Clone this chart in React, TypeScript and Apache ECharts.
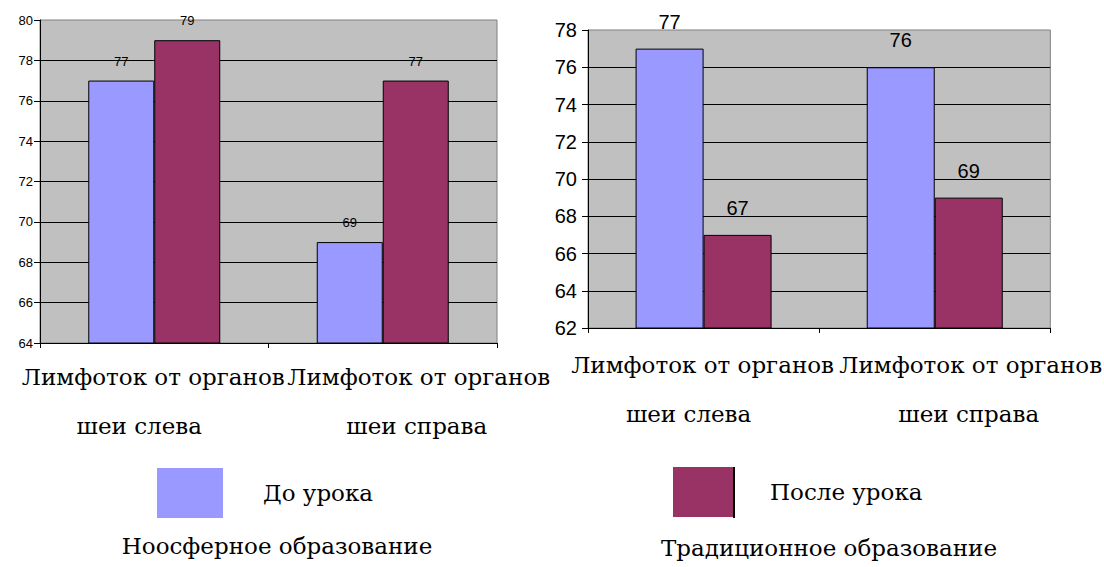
import React, { useEffect, useRef } from "react";
import * as echarts from "echarts";

const categories = ["Лимфоток от органов шеи слева", "Лимфоток от органов шеи справа"];
const noosBefore = [77, 69];
const noosAfter = [79, 77];
const tradBefore = [77, 76];
const tradAfter = [67, 69];
const seriesNames = ["До урока", "После урока"];
const titles = ["Ноосферное образование", "Традиционное образование"];

const BLUE = "#9999ff";
const RED = "#993366";
const SERIF = "DejaVu Serif";
const SANS = "Liberation Sans";
const FS = 23;

function catFormatter(shift1: number[], shift2: number[]) {
  return (value: string, index: number) => {
    const cut = value.indexOf("органов") + "органов".length;
    const l1 = value.slice(0, cut);
    const l2 = value.slice(cut + 1);
    const s1 = shift1[index];
    const s2 = shift2[index];
    const t1 = s1 >= 0 ? `{r${index}a|${l1}}` : `{l${index}a|${l1}}`;
    const t2 = s2 >= 0 ? `{r${index}b|${l2}}` : `{l${index}b|${l2}}`;
    return t1 + "\n" + t2;
  };
}

function richFor(shift1: number[], shift2: number[]) {
  const rich: any = {};
  const base = { fontFamily: SERIF, fontSize: FS, color: "#000", lineHeight: 49 };
  [0, 1].forEach((i) => {
    const a = shift1[i];
    const b = shift2[i];
    rich[`r${i}a`] = { ...base, padding: [0, 0, 0, Math.max(0, a * 2)] };
    rich[`l${i}a`] = { ...base, padding: [0, Math.max(0, -a * 2), 0, 0] };
    rich[`r${i}b`] = { ...base, padding: [0, 0, 0, Math.max(0, b * 2)] };
    rich[`l${i}b`] = { ...base, padding: [0, Math.max(0, -b * 2), 0, 0] };
  });
  return rich;
}

export default function App() {
  const ref = useRef<HTMLDivElement>(null);
  useEffect(() => {
    document.body.style.margin = "0";
    const chart = echarts.init(ref.current!, null, { renderer: "svg" });
    const shift1 = [-1, 36];
    const shift2 = [-15, 34];
    const xAxisCommon = (gridIndex: number, margin: number) => ({
      type: "category",
      gridIndex,
      data: categories,
      axisLine: { lineStyle: { color: "#000", width: 1 } },
      axisTick: { show: true, length: 5, lineStyle: { color: "#000" } },
      axisLabel: {
        interval: 0,
        margin,
        fontFamily: SERIF,
        fontSize: FS,
        formatter: catFormatter(shift1, shift2),
        rich: richFor(shift1, shift2),
        lineHeight: 49,
      },
      splitLine: { show: false },
    });
    const yAxisCommon = (gridIndex: number, min: number, max: number, fontSize: number, margin: number) => ({
      type: "value",
      gridIndex,
      min,
      max,
      interval: 2,
      axisLine: { show: true, lineStyle: { color: "#000", width: 1 } },
      axisTick: { show: true, length: 6, lineStyle: { color: "#000" } },
      axisLabel: { fontFamily: SANS, fontSize, color: "#000", margin },
      splitLine: { show: true, showMaxLine: false, lineStyle: { color: "#000", width: 1 } },
    });
    const barSeries = (name: string, data: number[], idx: number, color: string, width: number, fs: number, dist: number) => ({
      type: "bar",
      name,
      data,
      xAxisIndex: idx,
      yAxisIndex: idx,
      barWidth: width,
      barGap: "0%",
      itemStyle: { color, borderColor: "#000", borderWidth: 1 },
      label: {
        show: true,
        position: "top",
        distance: dist,
        fontFamily: SANS,
        fontSize: fs,
        color: "#000",
      },
    });
    chart.setOption({
      animation: false,
      backgroundColor: "#fff",
      title: [
        {
          text: titles[0],
          left: 277,
          top: 534,
          textAlign: "center",
          padding: 0,
          textStyle: { fontFamily: SERIF, fontSize: FS, fontWeight: "normal", color: "#000" },
        },
        {
          text: titles[1],
          left: 829,
          top: 536,
          textAlign: "center",
          padding: 0,
          textStyle: { fontFamily: SERIF, fontSize: FS, fontWeight: "normal", color: "#000" },
        },
      ],
      legend: [
        {
          data: [seriesNames[0]],
          left: 157,
          top: 468,
          padding: 0,
          itemWidth: 66,
          itemHeight: 50,
          icon: "rect",
          selectedMode: false,
          itemStyle: { borderWidth: 0 },
          textStyle: { fontFamily: SERIF, fontSize: FS, color: "#000", padding: [22, 0, 0, 35] },
        },
        {
          data: [seriesNames[1]],
          left: 673,
          top: 467,
          padding: 0,
          itemWidth: 60,
          itemHeight: 50,
          icon: "rect",
          selectedMode: false,
          itemStyle: { borderWidth: 0 },
          textStyle: { fontFamily: SERIF, fontSize: FS, color: "#000", padding: [0, 0, 0, 32] },
        },
      ],
      graphic: [
        {
          type: "line",
          shape: { x1: 734, y1: 467, x2: 734, y2: 518 },
          style: { stroke: "#000", lineWidth: 2 },
        },
      ],
      grid: [
        {
          left: 40,
          top: 20,
          width: 457,
          height: 323,
          show: true,
          backgroundColor: "#c0c0c0",
          borderColor: "#808080",
          borderWidth: 1,
        },
        {
          left: 588,
          top: 30,
          width: 467,
          height: 298,
          show: true,
          backgroundColor: "#c0c0c0",
          borderColor: "#808080",
          borderWidth: 1,
        },
      ],
      xAxis: [xAxisCommon(0, 9), xAxisCommon(1, 12)],
      yAxis: [yAxisCommon(0, 64, 80, 13, 7), yAxisCommon(1, 62, 78, 20, 11)],
      series: [
        barSeries(seriesNames[0], noosBefore, 0, BLUE, 66, 13, 13),
        barSeries(seriesNames[1], noosAfter, 0, RED, 66, 13, 13),
        barSeries(seriesNames[0], tradBefore, 1, BLUE, 68, 20, 17),
        barSeries(seriesNames[1], tradAfter, 1, RED, 68, 20, 17),
      ],
    });
    return () => chart.dispose();
  }, []);
  return <div ref={ref} style={{ width: 1104, height: 567 }} />;
}
